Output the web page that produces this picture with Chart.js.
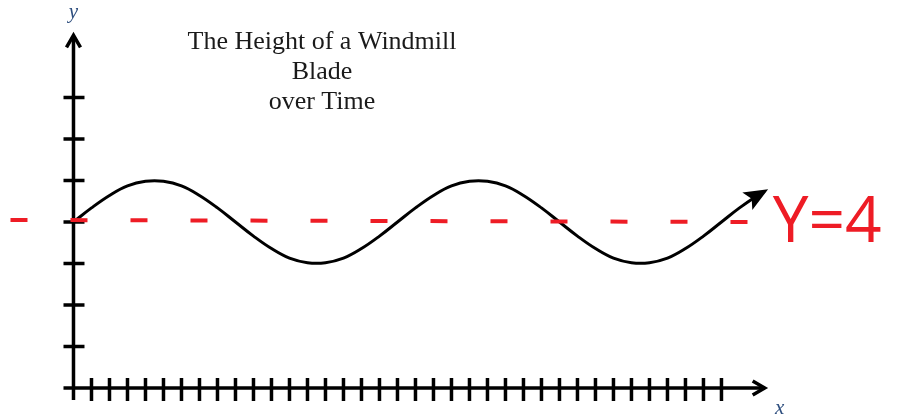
<!DOCTYPE html>
<html>
<head>
<meta charset="utf-8">
<script src="https://cdn.jsdelivr.net/npm/chart.js@4.4.1/dist/chart.umd.min.js"></script>
<style>
  html, body { margin: 0; padding: 0; background: #fff; }
  #wrap { width: 911px; height: 417px; }
</style>
</head>
<body>
<div id="wrap"><canvas id="chart" width="911" height="417"></canvas></div>
<script>
// ---- données ----
const titleLines = ["The Height of a Windmill", "Blade", "over Time"];
const timeValues = [0, 1, 2, 3, 4, 5, 6, 7, 8, 9, 10, 11, 12, 13, 14, 15, 16, 17, 18, 19,
                    20, 21, 22, 23, 24, 25, 26, 27, 28, 29, 30, 31, 32, 33, 34, 35, 36, 37, 38, 38.4];
const heightValues = [4.00, 4.34, 4.64, 4.87, 4.98, 4.98, 4.87, 4.64, 4.34, 4.00,
                      3.66, 3.36, 3.13, 3.02, 3.02, 3.13, 3.36, 3.66, 4.00, 4.34,
                      4.64, 4.87, 4.98, 4.98, 4.87, 4.64, 4.34, 4.00, 3.66, 3.36,
                      3.13, 3.02, 3.02, 3.13, 3.36, 3.66, 4.00, 4.34, 4.64, 4.74];
const midlineX = [-3.5, 37.8];
const midlineY = [4.05, 4.0];
const xTicks = [1, 2, 3, 4, 5, 6, 7, 8, 9, 10, 11, 12, 13, 14, 15, 16, 17, 18,
                19, 20, 21, 22, 23, 24, 25, 26, 27, 28, 29, 30, 31, 32, 33, 34, 35, 36];
const yTicks = [1, 2, 3, 4, 5, 6, 7];
const xAxisEnd = 38.4;
const yAxisEnd = 8.5;
const midlineLabel = "Y=4";

// ---- axes dessinés à la main ----
const axesPlugin = {
    id: "axesPlugin",
    beforeDatasetsDraw(chart) {
        const { ctx, scales: { x, y } } = chart;
        const x0 = x.getPixelForValue(0);
        const y0 = y.getPixelForValue(0);
        const xEnd = x.getPixelForValue(xAxisEnd);
        const yEnd = y.getPixelForValue(yAxisEnd);

        ctx.save();
        ctx.strokeStyle = "#000";
        ctx.lineWidth = 3.5;
        ctx.lineCap = "butt";

        ctx.beginPath();
        ctx.moveTo(x0, y0 + 12);
        ctx.lineTo(x0, yEnd + 1);
        ctx.moveTo(x0 - 10, y0);
        ctx.lineTo(xEnd - 1, y0);
        ctx.stroke();

        // graduations
        ctx.beginPath();
        yTicks.forEach(v => {
            const py = y.getPixelForValue(v);
            ctx.moveTo(x0 - 10, py);
            ctx.lineTo(x0 + 11, py);
        });
        xTicks.forEach(v => {
            const px = x.getPixelForValue(v);
            ctx.moveTo(px, y0 - 10);
            ctx.lineTo(px, y0 + 13);
        });
        ctx.stroke();

        // flèches ouvertes
        ctx.lineWidth = 3.5;
        ctx.lineJoin = "miter";
        ctx.beginPath();
        ctx.moveTo(x0 - 7, yEnd + 12);
        ctx.lineTo(x0, yEnd);
        ctx.lineTo(x0 + 7, yEnd + 12);
        ctx.moveTo(xEnd - 12, y0 - 7);
        ctx.lineTo(xEnd, y0);
        ctx.lineTo(xEnd - 12, y0 + 7);
        ctx.stroke();

        // noms des axes
        ctx.fillStyle = "#2f4f7f";
        ctx.font = "italic 21px 'Liberation Serif'";
        ctx.textAlign = "center";
        ctx.textBaseline = "middle";
        ctx.fillText("y", x0, 12);
        ctx.fillText("x", xEnd + 15, y0 + 20);

        // titre
        ctx.fillStyle = "#1a1a1a";
        ctx.font = "26px 'Liberation Serif'";
        titleLines.forEach((line, i) => {
            ctx.fillText(line, 322, 42 + i * 30);
        });
        ctx.restore();
    },
    afterDatasetsDraw(chart) {
        const { ctx, scales: { x, y } } = chart;
        const n = timeValues.length;
        const tx = x.getPixelForValue(timeValues[n - 1]);
        const ty = y.getPixelForValue(heightValues[n - 1]);
        const px = x.getPixelForValue(timeValues[n - 2]);
        const py = y.getPixelForValue(heightValues[n - 2]);
        const ang = Math.atan2(ty - py, tx - px);

        ctx.save();
        ctx.fillStyle = "#000";
        ctx.translate(tx, ty);
        ctx.rotate(ang);
        ctx.beginPath();
        ctx.moveTo(4, 0);
        ctx.lineTo(-20, -10);
        ctx.lineTo(-15, 0);
        ctx.lineTo(-20, 10);
        ctx.closePath();
        ctx.fill();
        ctx.restore();

        // annotation manuscrite
        ctx.save();
        ctx.fillStyle = "#ee1c25";
        ctx.font = "64px 'Open Sans'";
        ctx.textAlign = "left";
        ctx.textBaseline = "middle";
        ctx.fillText(midlineLabel, x.getPixelForValue(xAxisEnd) + 8, y.getPixelForValue(4) + 2);
        ctx.restore();
    }
};

new Chart(document.getElementById("chart").getContext("2d"), {
    type: "line",
    data: {
        datasets: [
            {
                label: "y = 4",
                data: midlineX.map((v, i) => ({ x: v, y: midlineY[i] })),
                borderColor: "#ee1c25",
                borderWidth: 4,
                borderDash: [17, 43],
                pointRadius: 0,
                order: 0
            },
            {
                label: "Height",
                data: timeValues.map((v, i) => ({ x: v, y: heightValues[i] })),
                borderColor: "#000",
                borderWidth: 3,
                tension: 0.4,
                pointRadius: 0,
                order: 1
            }
        ]
    },
    options: {
        responsive: false,
        animation: false,
        layout: { padding: 0 },
        plugins: { legend: { display: false }, tooltip: { enabled: false } },
        scales: {
            x: { type: "linear", display: false, min: -4.083, max: 46.53 },
            y: { type: "linear", display: false, min: -0.699, max: 9.35 }
        }
    },
    plugins: [axesPlugin]
});
</script>
</body>
</html>
